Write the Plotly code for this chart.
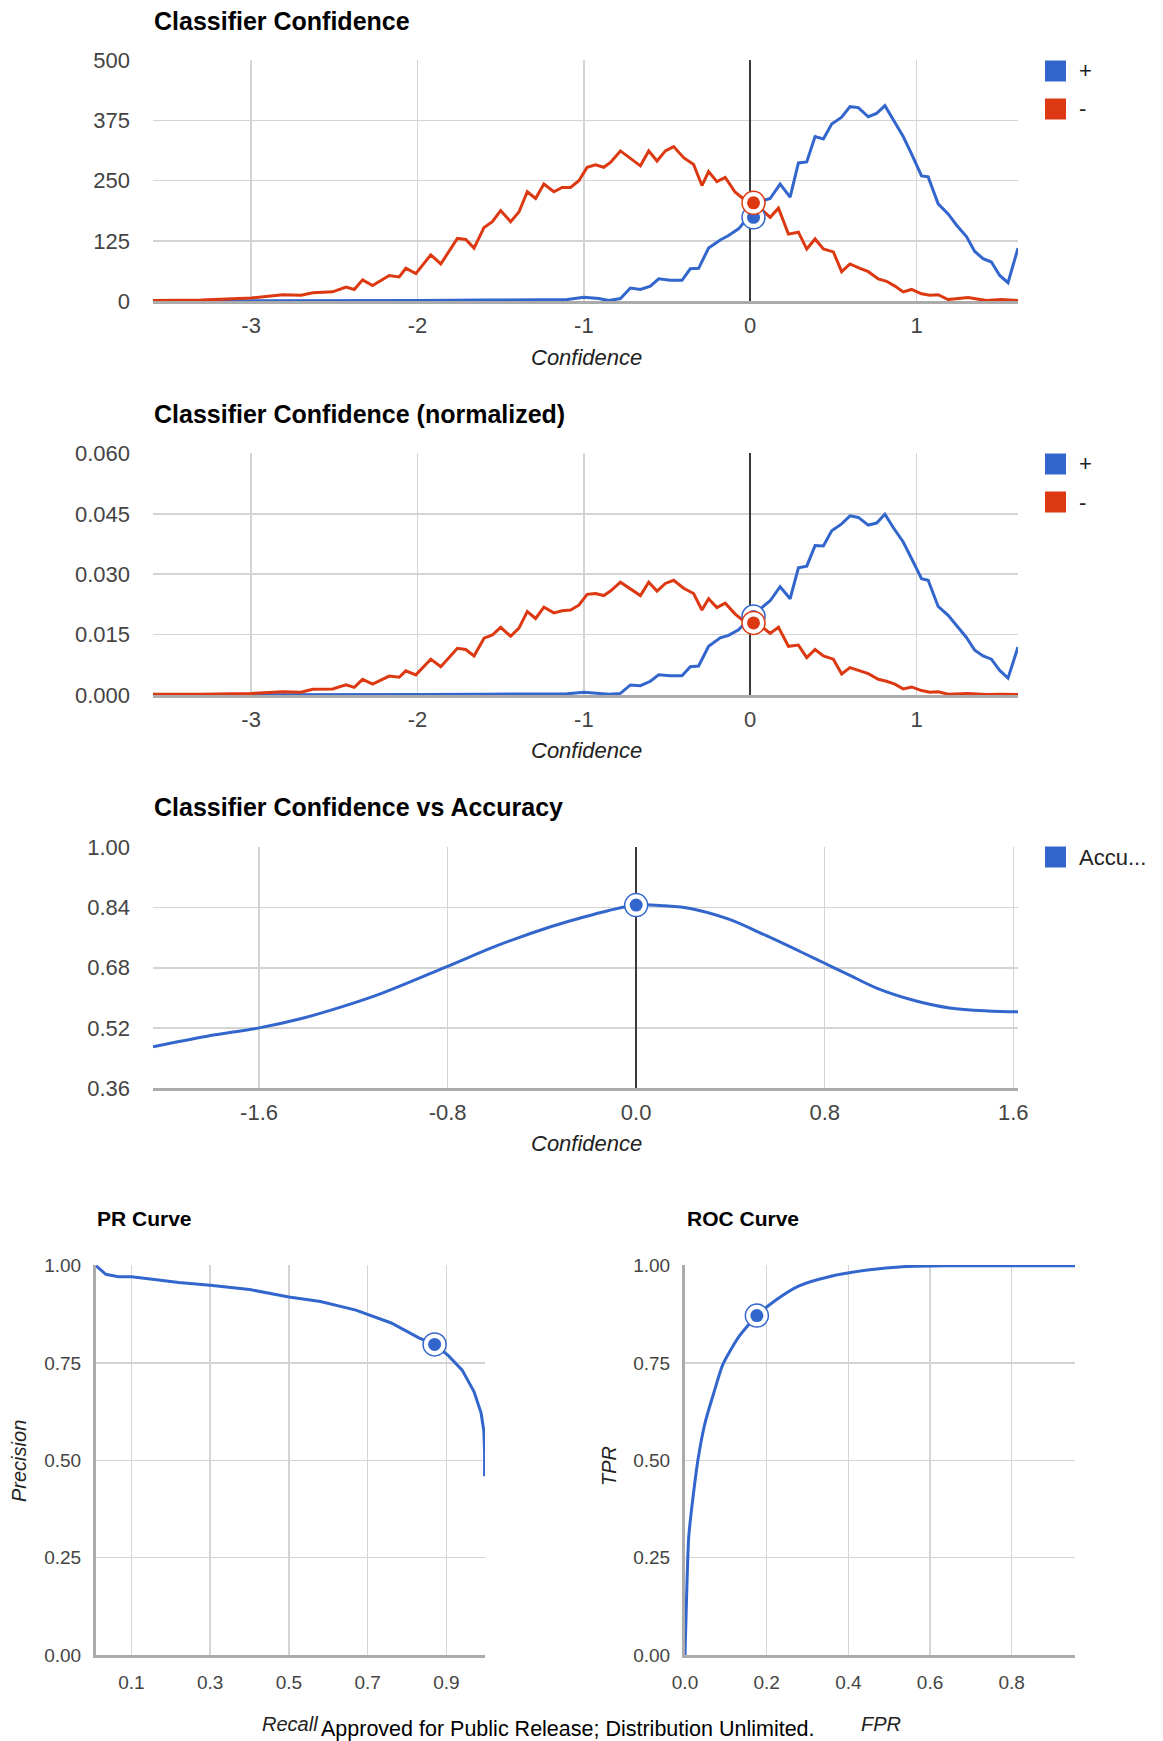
import plotly.graph_objects as go

# ---------------- data ----------------
# Classifier confidence histogram, negative class ("-")
neg_conf = [-3.59, -3.30, -3.00, -2.81, -2.70, -2.63, -2.51, -2.43, -2.38, -2.33, -2.27, -2.17, -2.11,
            -2.07, -2.01, -1.92, -1.86, -1.76, -1.71, -1.66, -1.60, -1.55, -1.50, -1.44, -1.39, -1.34,
            -1.29, -1.24, -1.18, -1.13, -1.08, -1.03, -0.98, -0.93, -0.88, -0.84, -0.78, -0.72, -0.66,
            -0.61, -0.56, -0.51, -0.46, -0.40, -0.34, -0.29, -0.25, -0.20, -0.15, -0.09, -0.04, 0.02,
            0.07, 0.12, 0.17, 0.23, 0.29, 0.34, 0.39, 0.44, 0.50, 0.55, 0.60, 0.66, 0.71, 0.77, 0.82,
            0.87, 0.92, 0.97, 1.03, 1.08, 1.13, 1.19, 1.31, 1.42, 1.51, 1.61]
neg_count = [1, 2, 6, 13, 12, 17, 19, 29, 24, 44, 32, 53, 50, 68, 57, 96, 77, 130, 128, 110, 153, 165,
             188, 165, 185, 227, 213, 243, 227, 236, 236, 250, 278, 283, 278, 288, 312, 296, 281, 312,
             291, 312, 321, 298, 284, 240, 269, 248, 257, 226, 212, 204, 190, 174, 193, 139, 143, 108,
             129, 108, 102, 61, 77, 68, 61, 46, 41, 31, 19, 24, 15, 12, 13, 3, 7, 1, 3, 1]
neg_norm = [0.0002, 0.0002, 0.0004, 0.0008, 0.0007, 0.0014, 0.0015, 0.0025, 0.0019, 0.0039, 0.0027,
            0.0047, 0.0044, 0.0060, 0.0050, 0.0089, 0.0070, 0.0116, 0.0113, 0.0097, 0.0141, 0.0149,
            0.0168, 0.0146, 0.0166, 0.0207, 0.0190, 0.0218, 0.0204, 0.0209, 0.0211, 0.0223, 0.0250,
            0.0252, 0.0247, 0.0258, 0.0280, 0.0263, 0.0247, 0.0280, 0.0258, 0.0277, 0.0285, 0.0265,
            0.0252, 0.0211, 0.0239, 0.0217, 0.0228, 0.0201, 0.0184, 0.0179, 0.0170, 0.0153, 0.0168,
            0.0121, 0.0124, 0.0093, 0.0113, 0.0097, 0.0089, 0.0052, 0.0068, 0.0060, 0.0053, 0.0039,
            0.0034, 0.0027, 0.0015, 0.0020, 0.0011, 0.0007, 0.0008, 0.0002, 0.0004, 0.0001, 0.0002, 0.0001]

# positive class ("+")
pos_conf = [-3.59, -3.20, -2.80, -2.40, -2.00, -1.60, -1.30, -1.10, -1.00, -0.91, -0.85, -0.78, -0.72,
            -0.66, -0.60, -0.55, -0.48, -0.41, -0.36, -0.31, -0.25, -0.18, -0.13, -0.07, -0.02, 0.02,
            0.07, 0.12, 0.18, 0.24, 0.29, 0.34, 0.39, 0.44, 0.49, 0.55, 0.60, 0.65, 0.71, 0.76, 0.81,
            0.86, 0.92, 0.97, 1.03, 1.07, 1.13, 1.19, 1.24, 1.30, 1.35, 1.40, 1.45, 1.50, 1.55, 1.61]
pos_count = [0, 0, 1, 1, 1, 2, 2, 3, 8, 5, 1, 5, 27, 24, 31, 46, 43, 43, 67, 68, 110, 127, 136, 150,
             171, 174, 208, 213, 243, 216, 287, 289, 342, 337, 368, 382, 404, 402, 383, 390, 406, 377,
             342, 306, 260, 258, 202, 181, 158, 134, 103, 88, 81, 53, 38, 110]
pos_norm = [0.0, 0.0, 0.0001, 0.0001, 0.0001, 0.0002, 0.0002, 0.0003, 0.0007, 0.0004, 0.0002, 0.0004,
            0.0025, 0.0023, 0.0034, 0.0050, 0.0048, 0.0048, 0.0070, 0.0072, 0.0121, 0.0142, 0.0148,
            0.0162, 0.0183, 0.0195, 0.0217, 0.0234, 0.0269, 0.0239, 0.0316, 0.0320, 0.0371, 0.0370,
            0.0408, 0.0425, 0.0445, 0.0441, 0.0422, 0.0427, 0.0449, 0.0416, 0.0380, 0.0339, 0.0289,
            0.0285, 0.0220, 0.0198, 0.0173, 0.0143, 0.0111, 0.0097, 0.0089, 0.0061, 0.0042, 0.0119]

# confidence vs accuracy
acc_conf = [-2.05, -1.82, -1.60, -1.42, -1.24, -1.08, -0.80, -0.59, -0.36, -0.24, -0.12, 0.00, 0.12,
            0.23, 0.39, 0.55, 0.70, 0.80, 0.90, 1.02, 1.18, 1.33, 1.49, 1.62]
accuracy = [0.470, 0.498, 0.520, 0.545, 0.578, 0.612, 0.684, 0.739, 0.790, 0.812, 0.832, 0.847, 0.845,
            0.838, 0.810, 0.766, 0.722, 0.692, 0.662, 0.626, 0.593, 0.573, 0.565, 0.563]

# PR curve
pr_recall = [0.010, 0.022, 0.035, 0.067, 0.10, 0.148, 0.22, 0.30, 0.40, 0.50, 0.58, 0.67, 0.76, 0.83,
             0.87, 0.905, 0.94, 0.97, 0.988, 0.995, 0.997, 0.997]
pr_precision = [1.0, 0.989, 0.978, 0.972, 0.972, 0.966, 0.957, 0.950, 0.939, 0.920, 0.908, 0.886, 0.853,
                0.815, 0.798, 0.769, 0.732, 0.677, 0.622, 0.576, 0.521, 0.459]

# ROC curve
roc_fpr = [0.0, 0.003, 0.009, 0.019, 0.033, 0.05, 0.071, 0.092, 0.130, 0.176, 0.221, 0.278, 0.353,
           0.447, 0.541, 0.635, 0.955]
roc_tpr = [0.0, 0.117, 0.301, 0.400, 0.510, 0.600, 0.675, 0.745, 0.815, 0.872, 0.911, 0.948, 0.972,
           0.989, 0.998, 1.0, 1.0]

# selected (threshold) points
sel_conf = [0.02]
sel_pos_count = [174]
sel_neg_count = [204]
sel_pos_norm = [0.0195]
sel_neg_norm = [0.0179]
sel_acc_conf = [0.0]
sel_acc = [0.847]
sel_recall = [0.87]
sel_precision = [0.798]
sel_fpr = [0.176]
sel_tpr = [0.872]

# ticks
conf_ticks = [-3, -2, -1, 0, 1]
conf_ticktext = ["-3", "-2", "-1", "0", "1"]
count_ticks = [0, 125, 250, 375, 500]
count_ticktext = ["0", "125", "250", "375", "500"]
norm_ticks = [0.0, 0.015, 0.030, 0.045, 0.060]
norm_ticktext = ["0.000", "0.015", "0.030", "0.045", "0.060"]
accx_ticks = [-1.6, -0.8, 0.0, 0.8, 1.6]
accx_ticktext = ["-1.6", "-0.8", "0.0", "0.8", "1.6"]
accy_ticks = [0.36, 0.52, 0.68, 0.84, 1.00]
accy_ticktext = ["0.36", "0.52", "0.68", "0.84", "1.00"]
recall_ticks = [0.1, 0.3, 0.5, 0.7, 0.9]
recall_ticktext = ["0.1", "0.3", "0.5", "0.7", "0.9"]
frac_ticks = [0.0, 0.25, 0.5, 0.75, 1.0]
frac_ticktext = ["0.00", "0.25", "0.50", "0.75", "1.00"]
fpr_ticks = [0.0, 0.2, 0.4, 0.6, 0.8]
fpr_ticktext = ["0.0", "0.2", "0.4", "0.6", "0.8"]

# ---------------- styling / layout ----------------
W, H = 1163, 1741
BLUE = "#3366cc"
RED = "#dc3912"
GRID = "#d4d4d4"
FONT = "Liberation Sans, Arial, sans-serif"


def xd(l, r):
    return [l / W, r / W]


def yd(t, b):
    return [1 - b / H, 1 - t / H]


fig = go.Figure()


def add_line(x, y, color, ax, smooth=0):
    line = dict(color=color, width=3, shape="linear")
    if smooth:
        line.update(shape="spline", smoothing=smooth)
    fig.add_trace(go.Scatter(
        x=x, y=y, mode="lines", line=line,
        xaxis="x" + ax, yaxis="y" + ax, showlegend=False, hoverinfo="skip"))


def add_selected(x, y, color, ax):
    fig.add_trace(go.Scatter(
        x=x, y=y, mode="markers",
        marker=dict(size=23, color="white", line=dict(color=color, width=1.5)),
        xaxis="x" + ax, yaxis="y" + ax, showlegend=False, hoverinfo="skip", cliponaxis=False))
    fig.add_trace(go.Scatter(
        x=x, y=y, mode="markers",
        marker=dict(size=13, color=color, line=dict(width=0)),
        xaxis="x" + ax, yaxis="y" + ax, showlegend=False, hoverinfo="skip", cliponaxis=False))


# chart 1
add_line(pos_conf, pos_count, BLUE, "")
add_line(neg_conf, neg_count, RED, "")
add_selected(sel_conf, sel_pos_count, BLUE, "")
add_selected(sel_conf, sel_neg_count, RED, "")
# chart 2
add_line(pos_conf, pos_norm, BLUE, "2")
add_line(neg_conf, neg_norm, RED, "2")
add_selected(sel_conf, sel_pos_norm, BLUE, "2")
add_selected(sel_conf, sel_neg_norm, RED, "2")
# chart 3
add_line(acc_conf, accuracy, BLUE, "3", smooth=1.0)
add_selected(sel_acc_conf, sel_acc, BLUE, "3")
# chart 4
add_line(pr_recall, pr_precision, BLUE, "4")
add_selected(sel_recall, sel_precision, BLUE, "4")
# chart 5
add_line(roc_fpr, roc_tpr, BLUE, "5", smooth=0.6)
add_selected(sel_fpr, sel_tpr, BLUE, "5")


def axis(domain, rng, tickvals, ticktext, size, standoff, anchor,
         zeroline=False, showline=False):
    return dict(domain=domain, range=rng, tickvals=tickvals, ticktext=ticktext,
                showgrid=True, gridcolor=GRID, gridwidth=1.5,
                zeroline=zeroline, zerolinecolor="#3a3a3a", zerolinewidth=2,
                showline=showline, linecolor="#ababab", linewidth=3,
                ticks="", ticklabelstandoff=standoff,
                tickfont=dict(family=FONT, size=size, color="#444444"),
                anchor=anchor, fixedrange=True, automargin=False)


big, small = 22, 19
layout = dict(
    width=W, height=H, margin=dict(l=0, r=0, t=0, b=0),
    paper_bgcolor="white", plot_bgcolor="white", showlegend=False,
    font=dict(family=FONT),
    xaxis=axis(xd(153, 1018), [-3.59, 1.61], conf_ticks, conf_ticktext, big, 3, "y",
               zeroline=True, showline=True),
    yaxis=axis(yd(60, 301), [0, 501], count_ticks, count_ticktext, big, 22, "x"),
    xaxis2=axis(xd(153, 1018), [-3.59, 1.61], conf_ticks, conf_ticktext, big, 3, "y2",
                zeroline=True, showline=True),
    yaxis2=axis(yd(453, 695), [0, 0.0601], norm_ticks, norm_ticktext, big, 22, "x2"),
    xaxis3=axis(xd(153, 1018), [-2.05, 1.62], accx_ticks, accx_ticktext, big, 3, "y3",
                zeroline=True, showline=True),
    yaxis3=axis(yd(847, 1088), [0.36, 1.0015], accy_ticks, accy_ticktext, big, 22, "x3"),
    xaxis4=axis(xd(96, 485), [0.01, 0.998], recall_ticks, recall_ticktext, small, 8, "y4",
                showline=True),
    yaxis4=axis(yd(1265, 1655), [0, 1.002], frac_ticks, frac_ticktext, small, 8, "x4",
                showline=True),
    xaxis5=axis(xd(685, 1075), [0, 0.955], fpr_ticks, fpr_ticktext, small, 8, "y5",
                showline=True),
    yaxis5=axis(yd(1265, 1655), [0, 1.002], frac_ticks, frac_ticktext, small, 8, "x5",
                showline=True),
)
fig.update_layout(**layout)

annotations = []


def ann(text, x, y, size, color="#000000", xanchor="left", angle=0):
    annotations.append(dict(text=text, x=x / W, y=1 - y / H, xref="paper", yref="paper",
                            xanchor=xanchor, yanchor="middle", showarrow=False, textangle=angle,
                            font=dict(family=FONT, size=size, color=color)))


ann("<b>Classifier Confidence</b>", 152, 21, 25)
ann("<b>Classifier Confidence (normalized)</b>", 152, 414, 25)
ann("<b>Classifier Confidence vs Accuracy</b>", 152, 807, 25)
ann("<b>PR Curve</b>", 95, 1218, 21)
ann("<b>ROC Curve</b>", 685, 1218, 21)
for yy in (357, 751, 1143):
    ann("<i>Confidence</i>", 586, yy, 22, "#222222", "center")
ann("<i>Precision</i>", 19, 1461, 20, "#222222", "center", -90)
ann("<i>Recall</i>", 290, 1724, 20, "#222222", "center")
ann("<i>TPR</i>", 609, 1466, 20, "#222222", "center", -90)
ann("<i>FPR</i>", 881, 1724, 20, "#222222", "center")
ann("Approved for Public Release; Distribution Unlimited.", 319, 1729, 21.5, "#000000")

# legends
shapes = []


def legend_item(label, color, cy):
    shapes.append(dict(type="rect", xref="paper", yref="paper",
                       x0=1045 / W, x1=1066 / W, y0=1 - (cy + 10.5) / H, y1=1 - (cy - 10.5) / H,
                       fillcolor=color, line=dict(width=0)))
    ann(label, 1077, cy, 22, "#222222")


legend_item("+", BLUE, 71)
legend_item("-", RED, 109)
legend_item("+", BLUE, 464)
legend_item("-", RED, 502)
legend_item("Accu...", BLUE, 857)

fig.update_layout(annotations=annotations, shapes=shapes)
fig.write_html("out.html",
               config={"displayModeBar": False, "staticPlot": True},
               post_script="document.body.style.margin='0';document.body.style.overflow='hidden';")
